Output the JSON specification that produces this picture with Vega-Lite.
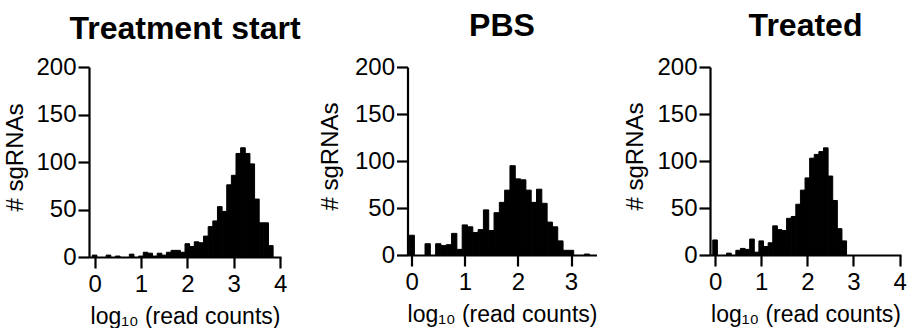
{
  "$schema": "https://vega.github.io/schema/vega-lite/v6.json",
  "padding": {"left": 3, "top": 10, "right": 0, "bottom": 0},
  "background": "white",
  "spacing": 26,
  "datasets": {
    "start": [
      {"lo": -0.05, "hi": 0.05, "n": 2},
      {"lo": 0.25, "hi": 0.35, "n": 2},
      {"lo": 0.45, "hi": 0.55, "n": 1},
      {"lo": 0.75, "hi": 0.85, "n": 3},
      {"lo": 0.95, "hi": 1.05, "n": 1},
      {"lo": 1.05, "hi": 1.15, "n": 5},
      {"lo": 1.15, "hi": 1.25, "n": 4},
      {"lo": 1.25, "hi": 1.35, "n": 1},
      {"lo": 1.35, "hi": 1.45, "n": 4},
      {"lo": 1.45, "hi": 1.55, "n": 2},
      {"lo": 1.55, "hi": 1.65, "n": 5},
      {"lo": 1.65, "hi": 1.75, "n": 7},
      {"lo": 1.75, "hi": 1.85, "n": 7},
      {"lo": 1.85, "hi": 1.95, "n": 5},
      {"lo": 1.95, "hi": 2.05, "n": 14},
      {"lo": 2.05, "hi": 2.15, "n": 11},
      {"lo": 2.15, "hi": 2.25, "n": 16},
      {"lo": 2.25, "hi": 2.35, "n": 15},
      {"lo": 2.35, "hi": 2.45, "n": 22},
      {"lo": 2.45, "hi": 2.55, "n": 32},
      {"lo": 2.55, "hi": 2.65, "n": 38},
      {"lo": 2.65, "hi": 2.75, "n": 53},
      {"lo": 2.75, "hi": 2.85, "n": 48},
      {"lo": 2.85, "hi": 2.95, "n": 76},
      {"lo": 2.95, "hi": 3.05, "n": 86},
      {"lo": 3.05, "hi": 3.15, "n": 109},
      {"lo": 3.15, "hi": 3.25, "n": 115},
      {"lo": 3.25, "hi": 3.35, "n": 109},
      {"lo": 3.35, "hi": 3.45, "n": 98},
      {"lo": 3.45, "hi": 3.55, "n": 61},
      {"lo": 3.55, "hi": 3.65, "n": 36},
      {"lo": 3.65, "hi": 3.75, "n": 36},
      {"lo": 3.75, "hi": 3.85, "n": 12}
    ],
    "pbs": [
      {"lo": -0.05, "hi": 0.05, "n": 21},
      {"lo": 0.25, "hi": 0.35, "n": 12},
      {"lo": 0.45, "hi": 0.55, "n": 12},
      {"lo": 0.55, "hi": 0.65, "n": 10},
      {"lo": 0.65, "hi": 0.75, "n": 11},
      {"lo": 0.75, "hi": 0.85, "n": 23},
      {"lo": 0.85, "hi": 0.95, "n": 6},
      {"lo": 0.95, "hi": 1.05, "n": 32},
      {"lo": 1.05, "hi": 1.15, "n": 30},
      {"lo": 1.15, "hi": 1.25, "n": 24},
      {"lo": 1.25, "hi": 1.35, "n": 27},
      {"lo": 1.35, "hi": 1.45, "n": 48},
      {"lo": 1.45, "hi": 1.55, "n": 26},
      {"lo": 1.55, "hi": 1.65, "n": 45},
      {"lo": 1.65, "hi": 1.75, "n": 56},
      {"lo": 1.75, "hi": 1.85, "n": 69},
      {"lo": 1.85, "hi": 1.95, "n": 95},
      {"lo": 1.95, "hi": 2.05, "n": 81},
      {"lo": 2.05, "hi": 2.15, "n": 80},
      {"lo": 2.15, "hi": 2.25, "n": 69},
      {"lo": 2.25, "hi": 2.35, "n": 56},
      {"lo": 2.35, "hi": 2.45, "n": 70},
      {"lo": 2.45, "hi": 2.55, "n": 55},
      {"lo": 2.55, "hi": 2.65, "n": 35},
      {"lo": 2.65, "hi": 2.75, "n": 30},
      {"lo": 2.75, "hi": 2.85, "n": 15},
      {"lo": 2.85, "hi": 2.95, "n": 5},
      {"lo": 2.95, "hi": 3.05, "n": 5},
      {"lo": 3.25, "hi": 3.35, "n": 1}
    ],
    "treated": [
      {"lo": -0.05, "hi": 0.05, "n": 16},
      {"lo": 0.25, "hi": 0.35, "n": 2},
      {"lo": 0.45, "hi": 0.55, "n": 5},
      {"lo": 0.55, "hi": 0.65, "n": 7},
      {"lo": 0.65, "hi": 0.75, "n": 6},
      {"lo": 0.75, "hi": 0.85, "n": 17},
      {"lo": 0.85, "hi": 0.95, "n": 3},
      {"lo": 0.95, "hi": 1.05, "n": 15},
      {"lo": 1.05, "hi": 1.15, "n": 9},
      {"lo": 1.15, "hi": 1.25, "n": 13},
      {"lo": 1.25, "hi": 1.35, "n": 31},
      {"lo": 1.35, "hi": 1.45, "n": 27},
      {"lo": 1.45, "hi": 1.55, "n": 26},
      {"lo": 1.55, "hi": 1.65, "n": 39},
      {"lo": 1.65, "hi": 1.75, "n": 41},
      {"lo": 1.75, "hi": 1.85, "n": 54},
      {"lo": 1.85, "hi": 1.95, "n": 69},
      {"lo": 1.95, "hi": 2.05, "n": 82},
      {"lo": 2.05, "hi": 2.15, "n": 103},
      {"lo": 2.15, "hi": 2.25, "n": 107},
      {"lo": 2.25, "hi": 2.35, "n": 110},
      {"lo": 2.35, "hi": 2.45, "n": 114},
      {"lo": 2.45, "hi": 2.55, "n": 84},
      {"lo": 2.55, "hi": 2.65, "n": 58},
      {"lo": 2.65, "hi": 2.75, "n": 28},
      {"lo": 2.75, "hi": 2.85, "n": 15}
    ]
  },
  "hconcat": [
    {
      "spacing": 16.5,
      "hconcat": [
        {
          "title": {"text": "Treatment start", "offset": 9},
          "width": 192,
          "height": 190,
          "data": {"name": "start"},
          "mark": {"type": "rect", "color": "black", "stroke": "black", "strokeWidth": 1},
          "encoding": {
            "x": {"field": "lo", "type": "quantitative", "scale": {"domain": [-0.12, 4.02], "nice": false, "zero": false},
                  "axis": {"values": [0, 1, 2, 3, 4], "title": "log₁₀ (read counts)"}},
            "x2": {"field": "hi"},
            "y": {"field": "n", "type": "quantitative", "scale": {"domain": [0, 200], "nice": false},
                  "axis": {"values": [0, 50, 100, 150, 200], "title": "# sgRNAs", "titleY": 90}},
            "y2": {"datum": 0}
          }
        },
        {
          "title": {"text": "PBS", "offset": 12},
          "width": 189,
          "height": 188,
          "data": {"name": "pbs"},
          "mark": {"type": "rect", "color": "black", "stroke": "black", "strokeWidth": 1},
          "encoding": {
            "x": {"field": "lo", "type": "quantitative", "scale": {"domain": [-0.08, 3.48], "nice": false, "zero": false},
                  "axis": {"values": [0, 1, 2, 3], "title": "log₁₀ (read counts)"}},
            "x2": {"field": "hi"},
            "y": {"field": "n", "type": "quantitative", "scale": {"domain": [0, 200], "nice": false},
                  "axis": {"values": [0, 50, 100, 150, 200], "title": "# sgRNAs", "titleY": 89, "titlePadding": 12}},
            "y2": {"datum": 0}
          }
        }
      ]
    },
    {
      "title": {"text": "Treated", "offset": 12},
      "width": 191,
      "height": 188,
      "data": {"name": "treated"},
      "mark": {"type": "rect", "color": "black", "stroke": "black", "strokeWidth": 1},
      "encoding": {
        "x": {"field": "lo", "type": "quantitative", "scale": {"domain": [-0.11, 4.03], "nice": false, "zero": false},
              "axis": {"values": [0, 1, 2, 3, 4], "title": "log₁₀ (read counts)"}},
        "x2": {"field": "hi"},
        "y": {"field": "n", "type": "quantitative", "scale": {"domain": [0, 200], "nice": false},
              "axis": {"values": [0, 50, 100, 150, 200], "title": "# sgRNAs", "titleY": 89, "titlePadding": 9.5}},
        "y2": {"datum": 0}
      }
    }
  ],
  "config": {
    "view": {"stroke": null},
    "font": "Liberation Sans",
    "title": {"font": "Liberation Sans", "fontSize": 32, "fontWeight": "bold", "color": "black", "anchor": "middle"},
    "axis": {
      "grid": false,
      "domainColor": "black",
      "domainWidth": 2.2,
      "tickColor": "black",
      "tickWidth": 2.2,
      "tickSize": 11,
      "labelFont": "Liberation Sans",
      "labelFontSize": 24,
      "labelColor": "black",
      "labelPadding": 2,
      "labelFlush": false,
      "labelOverlap": false,
      "titleFont": "Liberation Sans",
      "titleFontSize": 24,
      "titleFontWeight": "normal",
      "titleColor": "black"
    },
    "axisY": {"titlePadding": 8},
    "axisX": {"titlePadding": 9, "labelPadding": 4, "titleFontSize": 23}
  }
}
